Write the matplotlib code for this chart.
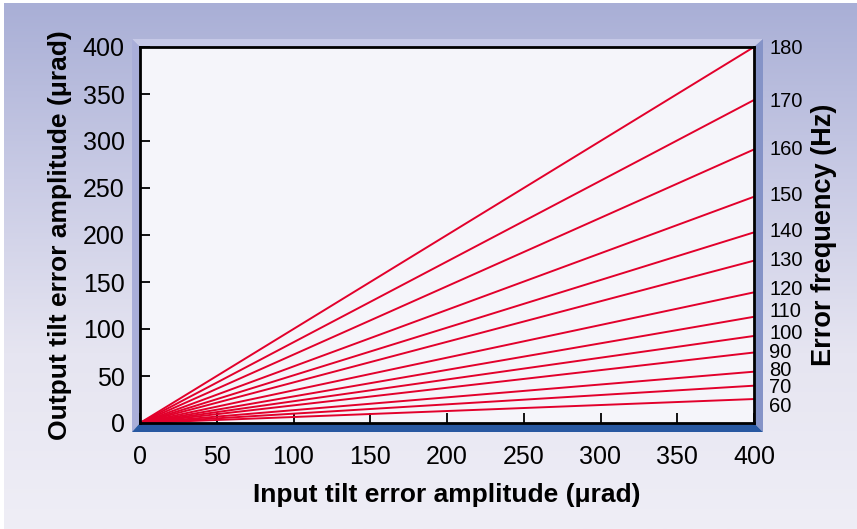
import numpy as np
import matplotlib
matplotlib.use('Agg')
from matplotlib import pyplot as plt
from matplotlib.patches import Polygon
from matplotlib.colors import LinearSegmentedColormap

# error frequency of each line (Hz) and output amplitude reached at 400 urad input
freqs = [60, 70, 80, 90, 100, 110, 120, 130, 140, 150, 160, 170, 180]
out_at_400 = [25.5, 39.7, 54.6, 75, 92.6, 113, 139, 172.7, 202.8, 240.7, 291, 343.6, 400]
x_end = 400

# right-hand labels sit at these output-amplitude heights (spread out at the bottom)
label_pos = [20, 39.5, 58.5, 77.5, 98, 121, 145, 175, 206, 245, 294, 345, 401]

x_ticks = [0, 50, 100, 150, 200, 250, 300, 350, 400]
y_ticks = [0, 50, 100, 150, 200, 250, 300, 350, 400]

plt.rcParams['font.family'] = ['Liberation Sans', 'DejaVu Sans']

W, H = 857, 529
fig = plt.figure(figsize=(W / 100, H / 100), dpi=100)
fig.patch.set_facecolor('white')

# background gradient
bg = fig.add_axes([4 / W, 0, 1 - 4 / W, 1 - 3 / H])
bg.set_axis_off()
cmap = LinearSegmentedColormap.from_list('bg', ['#a9afd6', '#c9cbe5', '#e6e5f1', '#efeef6'])
grad = np.linspace(0, 1, 256).reshape(-1, 1)
bg.imshow(grad, aspect='auto', cmap=cmap, extent=[0, 1, 0, 1], origin='upper')
bg.set_xlim(0, 1)
bg.set_ylim(0, 1)

# bevel frame around the plot (pixel coords -> figure fraction)
def px(x, y):
    return (x / W, 1 - y / H)

ox0, oy0, ox1, oy1 = 132, 39, 763, 432
ix0, iy0, ix1, iy1 = 140, 47, 754, 423
faces = [
    ([(ox0, oy0), (ox1, oy0), (ix1, iy0), (ix0, iy0)], '#c6c9e7'),
    ([(ox0, oy0), (ix0, iy0), (ix0, iy1), (ox0, oy1)], '#a9aed9'),
    ([(ox1, oy0), (ox1, oy1), (ix1, iy1), (ix1, iy0)], '#8593c7'),
    ([(ox0, oy1), (ix0, iy1), (ix1, iy1), (ox1, oy1)], '#2858a1'),
]
for pts, col in faces:
    fig.add_artist(Polygon([px(*p) for p in pts], closed=True, facecolor=col,
                           edgecolor='none', transform=fig.transFigure, zorder=1))

ax = fig.add_axes([ix0 / W, 1 - iy1 / H, (ix1 - ix0) / W, (iy1 - iy0) / H])
ax.set_facecolor('#f5f5fa')
ax.set_zorder(2)

for f, y in zip(freqs, out_at_400):
    ax.plot([0, x_end], [0, y], color='#e2002b', lw=1.4, solid_capstyle='butt')

ax.set_xlim(0, 400)
ax.set_ylim(0, 400)
ax.set_xticks(x_ticks)
ax.set_yticks(y_ticks)
ax.tick_params(direction='in', length=7, width=1.3, labelsize=18, colors='black')
ax.tick_params(axis='x', pad=16)
ax.tick_params(axis='y', pad=11)
for s in ax.spines.values():
    s.set_linewidth(2)
    s.set_color('black')

ax.set_xlabel('Input tilt error amplitude (\u03bcrad)', fontsize=19, fontweight='bold', labelpad=10)
ax.set_ylabel('Output tilt error amplitude (\u03bcrad)', fontsize=19, fontweight='bold', labelpad=8)

ax2 = ax.twinx()
ax2.set_ylim(0, 400)
ax2.set_yticks(label_pos)
ax2.set_yticklabels([str(f) for f in freqs])
ax2.tick_params(axis='y', length=0, pad=11, labelsize=14.5)
for s in ax2.spines.values():
    s.set_visible(False)
ax2.set_ylabel('Error frequency (Hz)', fontsize=19.5, fontweight='bold', labelpad=6)

fig.savefig('out.png', dpi=100)
